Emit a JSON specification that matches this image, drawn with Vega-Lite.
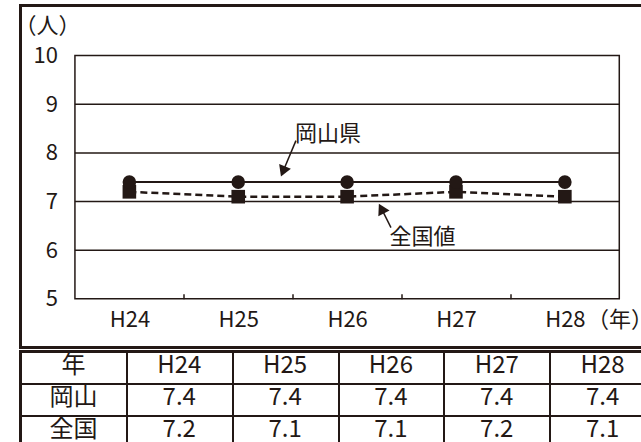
{
  "$schema": "https://vega.github.io/schema/vega-lite/v6.json",
  "padding": {"left": 12.5, "top": 3.5, "right": 0, "bottom": 0},
  "spacing": 0,
  "config": {
    "font": "Noto Sans CJK JP",
    "view": {"stroke": "#231815", "strokeWidth": 3},
    "axis": {"labelFont": "Noto Sans CJK JP", "titleFont": "Noto Sans CJK JP", "labelColor": "#231815", "titleColor": "#231815", "titleFontWeight": "normal", "grid": false},
    "text": {"font": "Noto Sans CJK JP", "color": "#231815"}
  },
  "datasets": {
    "main": [
      {"label": "H24", "year": 24, "okayama": 7.4, "national": 7.2},
      {"label": "H25", "year": 25, "okayama": 7.4, "national": 7.1},
      {"label": "H26", "year": 26, "okayama": 7.4, "national": 7.1},
      {"label": "H27", "year": 27, "okayama": 7.4, "national": 7.2},
      {"label": "H28", "year": 28, "okayama": 7.4, "national": 7.1}
    ],
    "gridlines": [{"v": 6}, {"v": 7}, {"v": 8}, {"v": 9}],
    "notes": [
      {"name": "岡山県", "tx": 25.824, "ty": 8.396, "x": 25.53, "y": 8.253, "hx": 25.411, "hy": 7.618},
      {"name": "全国値", "tx": 26.692, "ty": 6.28, "x": 26.403, "y": 6.465, "hx": 26.315, "hy": 6.857}
    ],
    "rows": [
      {"key": "label", "name": "年"},
      {"key": "okayama", "name": "岡山"},
      {"key": "national", "name": "全国"}
    ]
  },
  "vconcat": [
    {
      "width": 626,
      "height": 342,
      "view": {"stroke": "#231815", "strokeWidth": 3},
      "layer": [
        {
          "data": {"values": [{}]},
          "mark": {"type": "rect", "fill": "transparent", "stroke": "#231815", "strokeWidth": 1.5},
          "encoding": {
            "x": {
              "datum": 23.5, "type": "quantitative",
              "scale": {"domain": [23, 28.75], "nice": false, "zero": false},
              "axis": {
                "orient": "bottom", "offset": -48.7, "domain": false, "grid": false,
                "values": [24, 24.5, 25, 25.5, 26, 26.5, 27, 27.5, 28],
                "labelExpr": "datum.value % 1 === 0 ? 'H' + datum.value : ''",
                "tickSize": -5, "tickWidth": 1.5, "tickColor": "#231815",
                "tickOpacity": {"condition": {"test": "datum.value % 1 === 0", "value": 0}, "value": 1},
                "labelPadding": 16, "labelFontSize": 22, "labelOverlap": false, "labelFlush": false, "labelBound": false,
                "title": "（年）", "titleFontSize": 22, "titleAlign": "left", "titleBaseline": "top", "titleX": 566, "titleY": 11
              }
            },
            "x2": {"datum": 28.5},
            "y": {
              "datum": 5, "type": "quantitative",
              "scale": {"domain": [4, 11.03], "nice": false, "zero": false},
              "axis": {
                "orient": "left", "offset": -38, "domain": false, "ticks": false, "grid": false,
                "values": [5, 6, 7, 8, 9, 10], "labelPadding": 1, "labelFontSize": 22,
                "title": "（人）", "titleFontSize": 22, "titleAngle": 0, "titleAlign": "left", "titleBaseline": "top", "titleX": -44.5, "titleY": 10
              }
            },
            "y2": {"datum": 10}
          }
        },
        {
          "data": {"name": "gridlines"},
          "mark": {"type": "rule", "color": "#231815", "strokeWidth": 1.5},
          "encoding": {
            "x": {"datum": 23.5, "type": "quantitative"},
            "x2": {"datum": 28.5},
            "y": {"field": "v", "type": "quantitative"}
          }
        },
        {
          "data": {"name": "main"},
          "mark": {"type": "line", "color": "#231815", "strokeWidth": 2.5, "strokeDash": [7, 4]},
          "encoding": {
            "x": {"field": "year", "type": "quantitative"},
            "y": {"field": "national", "type": "quantitative"}
          }
        },
        {
          "data": {"name": "main"},
          "mark": {"type": "line", "color": "#231815", "strokeWidth": 2},
          "encoding": {
            "x": {"field": "year", "type": "quantitative"},
            "y": {"field": "okayama", "type": "quantitative"}
          }
        },
        {
          "data": {"name": "main"},
          "mark": {"type": "point", "shape": "square", "filled": true, "size": 185, "color": "#231815", "opacity": 1},
          "encoding": {
            "x": {"field": "year", "type": "quantitative"},
            "y": {"field": "national", "type": "quantitative"}
          }
        },
        {
          "data": {"name": "main"},
          "mark": {"type": "point", "shape": "circle", "filled": true, "size": 185, "color": "#231815", "opacity": 1},
          "encoding": {
            "x": {"field": "year", "type": "quantitative"},
            "y": {"field": "okayama", "type": "quantitative"}
          }
        },
        {
          "data": {"name": "notes"},
          "mark": {"type": "rule", "color": "#231815", "strokeWidth": 1.5},
          "encoding": {
            "x": {"field": "x", "type": "quantitative"},
            "y": {"field": "y", "type": "quantitative"},
            "x2": {"field": "hx"},
            "y2": {"field": "hy"}
          }
        },
        {
          "data": {"name": "notes"},
          "transform": [{"filter": "datum.name === '岡山県'"}],
          "mark": {"type": "point", "shape": "triangle-up", "filled": true, "size": 160, "angle": 201.8, "color": "#231815", "opacity": 1},
          "encoding": {
            "x": {"field": "hx", "type": "quantitative"},
            "y": {"field": "hy", "type": "quantitative"}
          }
        },
        {
          "data": {"name": "notes"},
          "transform": [{"filter": "datum.name === '全国値'"}],
          "mark": {"type": "point", "shape": "triangle-up", "filled": true, "size": 160, "angle": 332.4, "color": "#231815", "opacity": 1},
          "encoding": {
            "x": {"field": "hx", "type": "quantitative"},
            "y": {"field": "hy", "type": "quantitative"}
          }
        },
        {
          "data": {"name": "notes"},
          "mark": {"type": "text", "fontSize": 22, "color": "#231815", "baseline": "middle", "align": "center"},
          "encoding": {
            "x": {"field": "tx", "type": "quantitative"},
            "y": {"field": "ty", "type": "quantitative"},
            "text": {"field": "name", "type": "nominal"}
          }
        }
      ]
    },
    {
      "width": 635,
      "height": 99,
      "view": {"stroke": "#231815", "strokeWidth": 3},
      "layer": [
        {
          "data": {"name": "main"},
          "transform": [{"fold": ["label", "okayama", "national"], "as": ["key", "value"]}],
          "mark": {"type": "text", "fontSize": 24, "color": "#231815", "baseline": "middle", "align": "center", "dy": -1},
          "encoding": {
            "x": {
              "field": "label", "type": "nominal",
              "scale": {"domain": ["hdr", "H24", "H25", "H26", "H27", "H28"], "paddingInner": 0, "paddingOuter": 0},
              "axis": {"orient": "top", "grid": true, "gridColor": "#231815", "gridWidth": 2, "gridOpacity": 1, "tickBand": "extent", "labels": false, "ticks": false, "domain": false, "title": null}
            },
            "y": {
              "field": "key", "type": "nominal",
              "scale": {"domain": ["label", "okayama", "national"], "paddingInner": 0, "paddingOuter": 0.05, "align": 0},
              "axis": {"orient": "left", "grid": true, "gridColor": "#231815", "gridWidth": 2, "gridOpacity": 1, "tickBand": "extent", "labels": false, "ticks": false, "domain": false, "title": null}
            },
            "text": {"field": "value", "type": "nominal"}
          }
        },
        {
          "data": {"name": "rows"},
          "mark": {"type": "text", "fontSize": 24, "color": "#231815", "baseline": "middle", "align": "center", "dy": -1},
          "encoding": {
            "x": {"datum": "hdr", "type": "nominal"},
            "y": {"field": "key", "type": "nominal"},
            "text": {"field": "name", "type": "nominal"}
          }
        }
      ]
    }
  ]
}
